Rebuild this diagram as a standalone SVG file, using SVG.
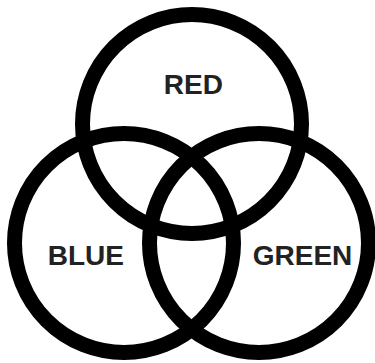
<svg xmlns="http://www.w3.org/2000/svg" width="375" height="363" viewBox="0 0 375 363">
<style>
.c{fill:none;stroke:#000;stroke-width:15}
.t{font-family:"Liberation Sans",Arial,sans-serif;font-weight:bold;font-size:28px;fill:#222;text-anchor:middle}
</style>
<rect width="375" height="363" fill="#fff"/>
<g id="red"><circle class="c" cx="192" cy="124" r="109.5"/><text class="t" x="193.3" y="94">RED</text></g>
<g id="blue"><circle class="c" cx="124" cy="243" r="109.5"/><text class="t" x="85.8" y="265">BLUE</text></g>
<g id="green"><circle class="c" cx="259" cy="243" r="109.5"/><text class="t" x="302.5" y="265">GREEN</text></g>
<g id="connectors"></g>
</svg>
